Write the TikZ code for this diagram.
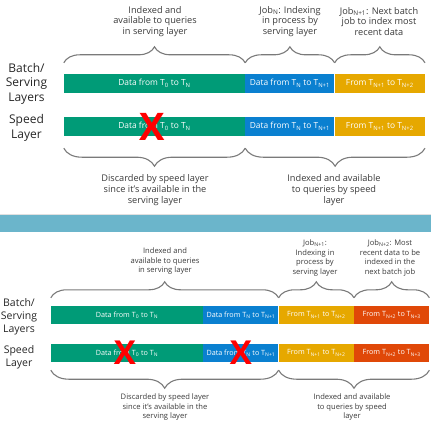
\documentclass[tikz,border=0pt]{standalone}
\usepackage{fontspec}
\setmainfont{Open Sans}
\usetikzlibrary{positioning,decorations.pathreplacing}

\definecolor{dgreen}{HTML}{009B77}
\definecolor{dblue}{HTML}{0A80D0}
\definecolor{dyellow}{HTML}{E6A800}
\definecolor{dred}{HTML}{E04808}
\definecolor{band}{HTML}{6BB5CB}
\definecolor{txt}{HTML}{3A3A3A}
\definecolor{brc}{HTML}{7A7A7A}

\tikzset{
  seg/.style={inner sep=0pt, minimum height=19pt, text=white, font=\fontsize{8.4}{9}\selectfont},
  segs/.style={seg, minimum height=18pt, font=\fontsize{7.2}{8}\selectfont},
  note/.style={align=center, inner sep=0pt, text=txt, font=\fontsize{9.2}{10.8}\selectfont},
  notes/.style={note, font=\fontsize{7.6}{9.5}\selectfont},
  lbl/.style={align=center, inner sep=0pt, text=black!85, font=\fontsize{12}{14.5}\selectfont},
  lbls/.style={lbl, font=\fontsize{10.5}{13}\selectfont},
  curly/.style={decorate, decoration={brace, amplitude=#1}, draw=brc, line width=1.1pt},
  cross/.style={inner sep=0pt, text=red, font=\fontsize{#1}{#1}\bfseries\selectfont},
}

\begin{document}
\begin{tikzpicture}[x=1pt, y=-1pt]
    \useasboundingbox (0,0) rectangle (431,433);

    % Top panel: bars
    \node[seg, fill=dgreen, minimum width=181pt] (bg1) at (154.5, 83.5) {Data from T\textsubscript{0} to T\textsubscript{N}};
    \node[seg, fill=dblue, minimum width=89pt, right=0pt of bg1] (bb1) {Data from T\textsubscript{N} to T\textsubscript{N+1}};
    \node[seg, fill=dyellow, minimum width=90pt, right=0pt of bb1] (by1) {From T\textsubscript{N+1} to T\textsubscript{N+2}};
    \node[seg, fill=dgreen, minimum width=181pt] (bg2) at (154.5, 126.5) {Data from T\textsubscript{0} to T\textsubscript{N}};
    \node[seg, fill=dblue, minimum width=89pt, right=0pt of bg2] (bb2) {Data from T\textsubscript{N} to T\textsubscript{N+1}};
    \node[seg, fill=dyellow, minimum width=90pt, right=0pt of bb2] (by2) {From T\textsubscript{N+1} to T\textsubscript{N+2}};
    \node[cross=38] (x1) at (152, 127) {X};

    % Top panel: labels
    \node[lbl] (batch1) at (26.5, 83.5) {Batch/\\Serving\\Layers};
    \node[lbl] (speed1) at (26.5, 128) {Speed\\Layer};

    % Top panel: braces
    \draw[curly=16pt] ([yshift=11pt]bg1.north west) -- ([yshift=11pt]bg1.north east);
    \draw[curly=16pt] ([yshift=11pt]bb1.north west) -- ([yshift=11pt]bb1.north east);
    \draw[curly=16pt] ([yshift=11pt]by1.north west) -- ([yshift=11pt]by1.north east);
    \draw[curly=18pt] ([yshift=-12pt]bg2.south east) -- ([yshift=-12pt]bg2.south west);
    \draw[curly=18pt] ([yshift=-12pt]by2.south east) -- ([yshift=-12pt]bb2.south west);

    % Top panel: notes
    \node[note] (n1) at (155, 21.5) {Indexed and\\available to queries\\in serving layer};
    \node[note] (n2) at (290, 21.5) {Job\textsubscript{N}: Indexing\\in process by\\serving layer};
    \node[note] (n3) at (379, 21.5) {Job\textsubscript{N+1}: Next batch\\job to index most\\recent data};
    \node[note] (n4) at (155, 190) {Discarded by speed layer\\since it’s available in the\\serving layer};
    \node[note] (n5) at (334, 190) {Indexed and available\\to queries by speed\\layer};

    % Separator
    \draw[black!12, line width=0.8pt] (0, 214) -- (431, 214);
    \fill[band] (0, 214.5) rectangle (431, 232);

    % Bottom panel: bars
    \node[segs, fill=dgreen, minimum width=152pt] (cg1) at (127, 315) {Data from T\textsubscript{0} to T\textsubscript{N}};
    \node[segs, fill=dblue, minimum width=75pt, right=0pt of cg1] (cb1) {Data from T\textsubscript{N} to T\textsubscript{N+1}};
    \node[segs, fill=dyellow, minimum width=75pt, right=0pt of cb1] (cy1) {From T\textsubscript{N+1} to T\textsubscript{N+2}};
    \node[segs, fill=dred, minimum width=75pt, right=0pt of cy1] (cr1) {From T\textsubscript{N+2} to T\textsubscript{N+3}};
    \node[segs, fill=dgreen, minimum width=152pt] (cg2) at (127, 353) {Data from T\textsubscript{0} to T\textsubscript{N}};
    \node[segs, fill=dblue, minimum width=75pt, right=0pt of cg2] (cb2) {Data from T\textsubscript{N} to T\textsubscript{N+1}};
    \node[segs, fill=dyellow, minimum width=75pt, right=0pt of cb2] (cy2) {From T\textsubscript{N+1} to T\textsubscript{N+2}};
    \node[segs, fill=dred, minimum width=75pt, right=0pt of cy2] (cr2) {From T\textsubscript{N+2} to T\textsubscript{N+3}};
    \node[cross=33] (x2) at (125, 353) {X};
    \node[cross=33] (x3) at (241, 353) {X};

    % Bottom panel: labels
    \node[lbls] (batch2) at (19, 317) {Batch/\\Serving\\Layers};
    \node[lbls] (speed2) at (19, 357) {Speed\\Layer};

    % Bottom panel: braces
    \draw[curly=16pt] ([yshift=8pt]cg1.north west) -- ([yshift=8pt]cb1.north east);
    \draw[curly=16pt] ([yshift=8pt]cy1.north west) -- ([yshift=8pt]cy1.north east);
    \draw[curly=16pt] ([yshift=8pt]cr1.north west) -- ([yshift=8pt]cr1.north east);
    \draw[curly=18pt] ([yshift=-8pt]cb2.south east) -- ([yshift=-8pt]cg2.south west);
    \draw[curly=18pt] ([yshift=-8pt]cr2.south east) -- ([yshift=-8pt]cy2.south west);

    % Bottom panel: notes
    \node[notes] (m1) at (165, 261.5) {Indexed and\\available to queries\\in serving layer};
    \node[notes] (m2) at (315, 258) {Job\textsubscript{N+1}:\\Indexing in\\process by\\serving layer};
    \node[notes] (m3) at (390, 258) {Job\textsubscript{N+2}: Most\\recent data to be\\indexed in the\\next batch job};
    \node[notes] (m4) at (165, 407.5) {Discarded by speed layer\\since it’s available in the\\serving layer};
    \node[notes] (m5) at (352, 407.5) {Indexed and available\\to queries by speed\\layer};
\end{tikzpicture}
\end{document}
